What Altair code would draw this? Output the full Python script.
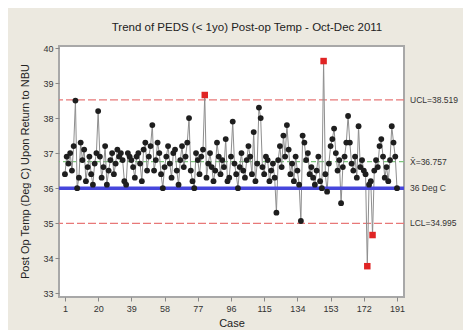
import altair as alt
import pandas as pd

# Observed post-op temperatures (Deg C), cases 1..191
temps = [
    36.4, 36.9, 36.7, 37.0, 36.5, 37.2, 38.5, 36.0, 36.3, 37.3,
    36.8, 37.1, 36.2, 36.6, 36.9, 36.4, 36.1, 36.7, 37.0, 38.2,
    36.9, 36.3, 36.6, 37.2, 36.1, 36.5, 36.8, 37.0, 36.4, 36.7,
    37.1, 36.9, 37.0, 36.8, 36.2, 36.1, 37.0, 36.9, 36.8, 36.6,
    36.3, 36.9, 37.0, 36.7, 36.2, 37.1, 37.3, 36.5, 36.9, 37.2,
    37.8, 36.5, 36.8, 37.3, 37.0, 36.4, 36.0, 36.6, 36.9, 37.2,
    36.7, 36.3, 37.0, 37.1, 36.5, 36.1, 36.8, 37.2, 36.6, 36.9,
    37.3, 38.0, 36.5, 36.2, 36.0, 37.0, 36.8, 36.4, 36.9, 37.1,
    38.66, 36.3, 36.7, 37.0, 36.6, 36.2, 36.5, 37.3, 36.9, 36.4,
    36.8, 36.6, 37.4, 36.2, 36.3, 36.9, 37.9, 36.7, 36.4, 36.0,
    36.6, 37.0, 36.5, 36.3, 36.8, 37.2, 36.9, 36.4, 37.6, 36.2,
    36.7, 38.3, 38.0, 36.6, 36.4, 36.9, 36.8, 36.2, 36.5, 36.7,
    36.3, 35.3, 36.8, 37.2, 36.6, 37.5, 36.9, 37.8, 37.1, 36.4,
    36.7, 36.2, 36.9, 36.5, 36.1, 35.06, 37.5, 37.3, 36.8, 37.0,
    36.4, 36.6, 36.3, 36.1, 36.5, 36.9, 36.2, 36.0, 39.63, 36.4,
    35.9, 36.7, 37.2, 37.4, 37.7, 37.0, 36.5, 36.8, 35.57, 36.6,
    36.9, 37.3, 38.06, 37.3, 36.7, 36.5, 36.9, 36.3, 37.77, 36.6,
    36.8, 36.5, 36.4, 33.77, 36.1, 36.2, 34.66, 36.5, 36.8, 36.6,
    37.2, 37.4, 36.9, 36.3, 36.6, 36.2, 36.8, 37.77, 37.3, 36.9, 36.0,
]
cases = list(range(1, len(temps) + 1))

ucl = 38.519
mean = 36.757
lcl = 34.995
target = 36.0

x_ticks = [1, 20, 39, 58, 77, 96, 115, 134, 153, 172, 191]
y_ticks = [33, 34, 35, 36, 37, 38, 39, 40]

title_text = "Trend of PEDS (< 1yo) Post-op Temp - Oct-Dec 2011"
y_title = "Post Op Temp (Deg C) Upon Return to NBU"
x_title = "Case"

ref_values = [ucl, mean, target, lcl]
ref_labels = ["UCL=38.519", "X\u0304=36.757", "36 Deg C", "LCL=34.995"]
ref_kinds = ["limit", "mean", "target", "limit"]
ref_dy = [0, -2, 0, 10]

W, H = 345, 251
FONT = "Liberation Sans"

df = pd.DataFrame({"case": cases, "temp": temps})
df["out"] = (df["temp"] > ucl) | (df["temp"] < lcl)
refs = pd.DataFrame({"temp": ref_values, "label": ref_labels,
                     "kind": ref_kinds, "dy": ref_dy})

xs = alt.Scale(domain=[-2.4, 195], nice=False, zero=False)
ys = alt.Scale(domain=[32.89, 40.06], nice=False, zero=False)

x_axis = alt.Axis(values=x_ticks, title=x_title, grid=False, labelOverlap=False,
                  labelFontSize=9, titleFontSize=11, titleFontWeight="normal",
                  titlePadding=4, tickSize=4, labelPadding=3)
y_axis = alt.Axis(values=y_ticks, title=None, grid=False, labelOverlap=False,
                  labelFontSize=9, tickSize=4, labelPadding=2)

x_enc = alt.X("case:Q", scale=xs, axis=x_axis)
y_enc = alt.Y("temp:Q", scale=ys, axis=y_axis)

limits = alt.Chart(refs[refs.kind == "limit"]).mark_rule(
    color="#e87878", strokeWidth=1.2, strokeDash=[8, 3]).encode(y=y_enc)
mean_rule = alt.Chart(refs[refs.kind == "mean"]).mark_rule(
    color="#7cc47c", strokeWidth=1.3, strokeDash=[5, 3]).encode(y=y_enc)

line = alt.Chart(df).mark_line(color="#8e8e8e", strokeWidth=1).encode(x=x_enc, y=y_enc)

target_rule = alt.Chart(refs[refs.kind == "target"]).mark_rule(
    color="#4646dc", strokeWidth=3.5).encode(y=y_enc)

pts = alt.Chart(df[~df.out]).mark_point(
    filled=True, color="#1e1e1e", size=34, opacity=1).encode(x=x_enc, y=y_enc)
red_pts = alt.Chart(df[df.out]).mark_point(
    filled=True, color="#e02424", size=42, shape="square", opacity=1).encode(x=x_enc, y=y_enc)

labels = alt.Chart(refs).mark_text(
    align="left", baseline="middle", fontSize=8.5, color="#333333", font=FONT).encode(
    x=alt.value(W + 6), y=y_enc, yOffset=alt.YOffset("dy:Q", scale=None),
    text="label:N")

title = alt.Chart(refs.head(1)).mark_text(
    align="center", baseline="middle", fontSize=11.5, color="#222222", font=FONT).encode(
    x=alt.value(188), y=alt.value(-18), text=alt.value(title_text))

ytitle = alt.Chart(refs.head(1)).mark_text(
    align="center", baseline="middle", fontSize=11, angle=270, color="#222222", font=FONT).encode(
    x=alt.value(-33), y=alt.value(H / 2), text=alt.value(y_title))

chart = alt.layer(limits, mean_rule, line, target_rule, pts, red_pts, labels, title, ytitle).properties(
    width=W, height=H,
    autosize=alt.AutoSizeParams(type="none"),
    padding={"left": 51, "top": 38, "right": 59, "bottom": 33},
    background="#ECE9E0",
).configure_view(
    fill="white", stroke="#a8a8a8", strokeWidth=2
).configure_axis(
    labelFont=FONT, titleFont=FONT, labelColor="#333333", titleColor="#222222",
    domain=False, tickColor="#888888"
)

chart.save("out.html", embed_options={"renderer": "svg", "actions": False})
